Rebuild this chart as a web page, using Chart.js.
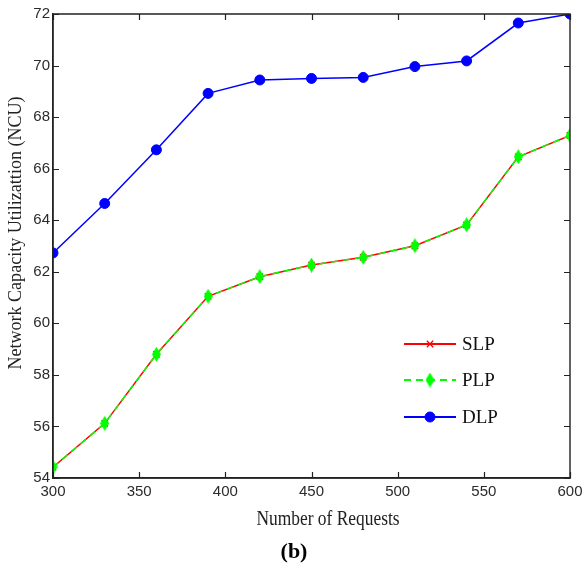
<!DOCTYPE html>
<html>
<head>
<meta charset="utf-8">
<script src="https://cdn.jsdelivr.net/npm/chart.js@4.4.1/dist/chart.umd.min.js"></script>
<style>
html,body{margin:0;padding:0;background:#fff;}
canvas{display:block;}
</style>
</head>
<body>
<canvas id="c" width="584" height="566"></canvas>
<script>
const requests = [300, 330, 360, 390, 420, 450, 480, 510, 540, 570, 600];
const slp = [54.42, 56.12, 58.80, 61.05, 61.81, 62.26, 62.56, 63.01, 63.82, 66.46, 67.29];
const plp = [54.42, 56.12, 58.80, 61.05, 61.81, 62.26, 62.56, 63.01, 63.82, 66.46, 67.29];
const dlp = [62.73, 64.65, 66.73, 68.92, 69.44, 69.50, 69.54, 69.96, 70.18, 71.65, 72.00];
const seriesNames = ['SLP', 'PLP', 'DLP'];
const xTicks = [300, 350, 400, 450, 500, 550, 600];
const yTicks = [54, 56, 58, 60, 62, 64, 66, 68, 70, 72];
const xTitle = 'Number of Requests';
const yTitle = 'Network Capacity Utilizattion (NCU)';
const caption = '(b)';

const toXY = arr => arr.map((v, i) => ({x: requests[i], y: v}));
const axisColor = '#222';
const textColor = '#2b2b2b';

// tall green diamond marker
function makeDiamond(w, h, color) {
  const c = document.createElement('canvas');
  c.width = w; c.height = h;
  const g = c.getContext('2d');
  g.fillStyle = color;
  g.beginPath();
  g.moveTo(w / 2, 0); g.lineTo(w, h / 2); g.lineTo(w / 2, h); g.lineTo(0, h / 2);
  g.closePath(); g.fill();
  return c;
}
const diamond = makeDiamond(9, 15, '#00ff00');

const framePlugin = {
  id: 'frame',
  afterDatasetsDraw(chart) {
    const {ctx, chartArea: a, scales: {x, y}} = chart;
    ctx.save();
    ctx.strokeStyle = axisColor;
    ctx.lineWidth = 1.4;
    ctx.beginPath();
    ctx.rect(a.left, a.top, a.right - a.left, a.bottom - a.top);
    ctx.stroke();
    const tl = 6;
    ctx.lineWidth = 1.2;
    ctx.beginPath();
    xTicks.forEach(v => {
      const px = Math.round(x.getPixelForValue(v)) + 0.5;
      ctx.moveTo(px, a.bottom); ctx.lineTo(px, a.bottom - tl);
      ctx.moveTo(px, a.top); ctx.lineTo(px, a.top + tl);
    });
    yTicks.forEach(v => {
      const py = Math.round(y.getPixelForValue(v)) + 0.5;
      ctx.moveTo(a.left, py); ctx.lineTo(a.left + tl, py);
      ctx.moveTo(a.right, py); ctx.lineTo(a.right - tl, py);
    });
    ctx.stroke();
    ctx.restore();
  },
  afterDraw(chart) {
    const {ctx} = chart;
    ctx.save();
    // legend
    const lx0 = 404, lx1 = 456, tx = 462;
    const rows = [344, 380, 417];
    chart.data.datasets.forEach((ds, i) => {
      const yy = rows[i];
      ctx.strokeStyle = ds.borderColor;
      ctx.lineWidth = 2;
      ctx.setLineDash(ds.borderDash || []);
      ctx.beginPath(); ctx.moveTo(lx0, yy); ctx.lineTo(lx1, yy); ctx.stroke();
      ctx.setLineDash([]);
      ctx.fillStyle = ds.backgroundColor;
      ctx.strokeStyle = ds.pointBorderColor;
      ctx.lineWidth = ds.pointBorderWidth;
      Chart.helpers.drawPoint(ctx, {
        pointStyle: ds.pointStyle, radius: ds.pointRadius, borderWidth: ds.pointBorderWidth, rotation: 0
      }, (lx0 + lx1) / 2, yy);
      ctx.fillStyle = '#111';
      ctx.font = '19px "Liberation Serif", serif';
      ctx.textBaseline = 'middle';
      ctx.textAlign = 'left';
      ctx.fillText(ds.label, tx, yy + 1);
    });
    // axis titles
    ctx.fillStyle = '#222';
    ctx.textAlign = 'center';
    ctx.textBaseline = 'middle';
    ctx.save();
    ctx.translate(328, 520);
    ctx.scale(0.87, 1);
    ctx.font = '20px "Liberation Serif", serif';
    ctx.fillText(xTitle, 0, 0);
    ctx.restore();
    ctx.save();
    ctx.translate(16, 233);
    ctx.rotate(-Math.PI / 2);
    ctx.scale(0.95, 1);
    ctx.font = '19px "Liberation Serif", serif';
    ctx.fillText(yTitle, 0, 0);
    ctx.restore();
    // caption
    ctx.fillStyle = '#000';
    ctx.font = 'bold 22px "Liberation Serif", serif';
    ctx.fillText(caption, 294, 552);
    ctx.restore();
  }
};

new Chart(document.getElementById('c'), {
  type: 'line',
  data: {
    datasets: [
      {label: seriesNames[0], data: toXY(slp), borderColor: '#ff0000', backgroundColor: '#ff0000', order: 1,
       borderWidth: 1.5, pointStyle: 'crossRot', pointRadius: 4.5, pointBorderWidth: 1.3, pointBorderColor: '#ff0000'},
      {label: seriesNames[1], data: toXY(plp), borderColor: '#00ff00', backgroundColor: '#00ff00', order: 0,
       borderWidth: 1.5, borderDash: [7, 5], pointStyle: diamond, pointRadius: 5, pointBorderWidth: 1, pointBorderColor: '#00ff00'},
      {label: seriesNames[2], data: toXY(dlp), borderColor: '#0000ff', backgroundColor: '#0000ff', order: 2,
       borderWidth: 1.5, pointStyle: 'circle', pointRadius: 5, pointBorderWidth: 1, pointBorderColor: '#0000ff'}
    ]
  },
  options: {
    responsive: false,
    animation: false,
    layout: {padding: {top: 14, right: 0, left: 0, bottom: 0}},
    plugins: {legend: {display: false}, tooltip: {enabled: false}},
    elements: {line: {tension: 0}},
    scales: {
      x: {
        type: 'linear', min: 300, max: 600,
        afterBuildTicks: s => { s.ticks = xTicks.map(v => ({value: v})); },
        afterFit: s => { s.height = 88; s.paddingRight = 14; s.paddingLeft = 0; },
        grid: {display: true, drawOnChartArea: false, drawTicks: false},
        border: {display: true, color: axisColor, width: 1.4},
        ticks: {color: textColor, font: {family: '"Liberation Sans", Arial, sans-serif', size: 15}, padding: 5, maxRotation: 0},
        title: {display: false, text: xTitle}
      },
      y: {
        type: 'linear', min: 54, max: 72,
        afterBuildTicks: s => { s.ticks = yTicks.map(v => ({value: v})); },
        afterFit: s => { s.width = 53; s.paddingTop = 0; s.paddingBottom = 0; },
        grid: {display: true, drawOnChartArea: false, drawTicks: false},
        border: {display: true, color: axisColor, width: 1.4},
        ticks: {color: textColor, font: {family: '"Liberation Sans", Arial, sans-serif', size: 15}, padding: 3},
        title: {display: false, text: yTitle}
      }
    }
  },
  plugins: [framePlugin]
});
</script>
</body>
</html>
